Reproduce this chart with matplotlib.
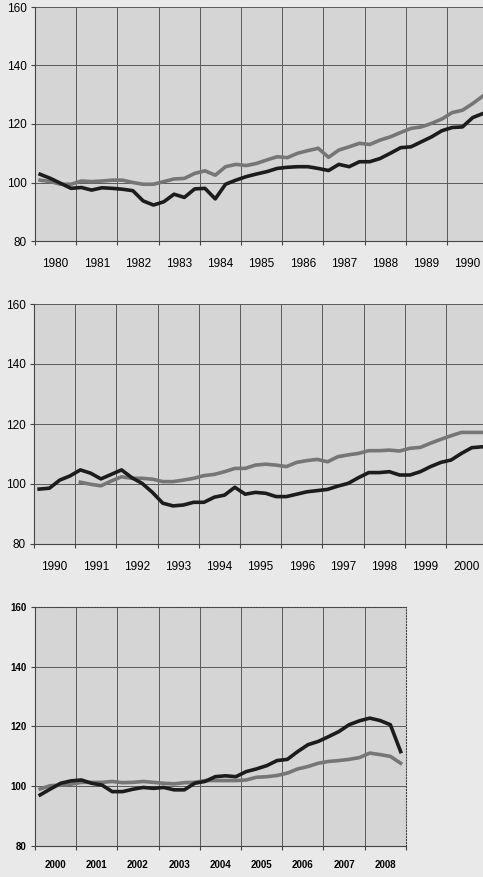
import numpy as np
import matplotlib.pyplot as plt

# quarterly index values (black = thick dark line, grey = lighter line)
black_80s = [102.8, 101.4, 99.7, 98.0, 98.3, 97.4, 98.2, 98.0, 97.7, 97.2, 93.7, 92.3,
             93.4, 96.0, 94.9, 97.8, 98.0, 94.4, 99.4, 100.8, 102.0, 102.9, 103.7, 104.8,
             105.2, 105.4, 105.4, 104.8, 104.1, 106.2, 105.4, 107.1, 107.1, 108.2, 110.0, 111.9,
             112.2, 113.9, 115.6, 117.7, 118.8, 119.0, 122.2, 123.6]
grey_80s = [100.8, 100.3, 99.4, 99.4, 100.5, 100.3, 100.5, 100.8, 100.8, 100.0, 99.4, 99.4,
            100.3, 101.2, 101.4, 103.1, 104.0, 102.5, 105.4, 106.2, 105.8, 106.5, 107.7, 108.8,
            108.5, 110.0, 110.9, 111.7, 108.6, 111.1, 112.2, 113.4, 113.0, 114.5, 115.6, 117.1,
            118.5, 119.0, 120.2, 121.7, 123.9, 124.7, 127.0, 129.6]

black_90s = [98.3, 98.6, 101.3, 102.7, 104.7, 103.6, 101.7, 103.2, 104.7, 102.1, 100.2, 97.2,
             93.6, 92.7, 93.0, 93.9, 93.9, 95.6, 96.3, 98.9, 96.6, 97.2, 96.9, 95.8,
             95.8, 96.6, 97.4, 97.8, 98.2, 99.3, 100.2, 102.1, 103.8, 103.8, 104.1, 103.0,
             103.0, 104.1, 105.8, 107.2, 108.0, 110.2, 112.1, 112.4]
grey_90s = [100.6, 99.9, 99.4, 101.0, 102.4, 101.9, 101.9, 101.6, 100.8, 100.8, 101.3, 101.9,
            102.8, 103.2, 104.1, 105.2, 105.2, 106.3, 106.6, 106.3, 105.8, 107.2, 107.8, 108.2,
            107.4, 109.1, 109.7, 110.2, 111.1, 111.1, 111.3, 111.0, 111.9, 112.2, 113.6, 114.9,
            116.1, 117.2, 117.2, 117.2]  # starts 1991 Q1

black_00s = [97.1, 99.1, 101.0, 101.8, 102.1, 101.0, 100.4, 98.2, 98.2, 99.0, 99.6, 99.3,
             99.6, 98.8, 98.8, 101.0, 101.6, 103.2, 103.5, 103.2, 104.9, 105.8, 106.9, 108.6,
             109.0, 111.6, 113.9, 115.0, 116.6, 118.3, 120.6, 121.9, 122.8, 122.0, 120.6, 111.6]
grey_00s = [99.1, 100.2, 100.4, 100.7, 101.3, 101.3, 101.3, 101.6, 101.2, 101.3, 101.6, 101.3,
            101.0, 100.8, 101.2, 101.3, 101.9, 101.9, 101.9, 101.9, 102.1, 103.0, 103.2, 103.6,
            104.4, 105.8, 106.6, 107.7, 108.3, 108.6, 109.0, 109.6, 111.1, 110.6, 110.0, 107.7]

yticks = [80, 100, 120, 140, 160]

paper = '#e9e9e9'
plot_bg = '#d5d5d5'
grid_col = '#5a5a5a'
dark = '#1c1c1c'
mid = '#767676'


def quarters(start, n):
    return start + 0.125 + 0.25 * np.arange(n)


def panel(fig, rect, first, last, black, grey, grey_start, narrow=False):
    ax = fig.add_axes(rect)
    ax.set_facecolor(plot_bg)
    ax.set_xlim(first, last)
    ax.set_ylim(80, 160)
    ax.set_yticks(yticks)
    ax.set_xticks(np.arange(first, last + 1))
    ax.set_xticks(np.arange(first, last) + 0.5, minor=True)
    ax.set_xticklabels([])
    ax.set_xticklabels([str(y) for y in range(first, last)], minor=True)
    ax.grid(True, which='major', color=grid_col, lw=0.7)
    ax.set_axisbelow(True)
    for s in ['top', 'right']:
        ax.spines[s].set_visible(narrow)
        ax.spines[s].set_linestyle(':')
        ax.spines[s].set_color('#444444')
    for s in ['left', 'bottom']:
        ax.spines[s].set_color('#444444')
        ax.spines[s].set_linewidth(0.8)
    ax.tick_params(axis='x', which='major', length=3, color='#444444')
    ax.tick_params(axis='y', length=3, color='#444444', pad=3)
    if narrow:
        fam = ['Liberation Sans Narrow', 'Liberation Sans', 'DejaVu Sans']
        ax.tick_params(axis='x', which='minor', length=0, pad=10, labelsize=7)
        ax.tick_params(axis='y', labelsize=7)
        for t in ax.get_xticklabels(minor=True) + ax.get_yticklabels():
            t.set_family(fam)
            t.set_fontweight('bold')
    else:
        ax.tick_params(axis='x', which='minor', length=0, pad=12, labelsize=8.5)
        ax.tick_params(axis='y', labelsize=8.5)
        for t in ax.get_xticklabels(minor=True) + ax.get_yticklabels():
            t.set_family(['Liberation Sans', 'DejaVu Sans'])
    ax.plot(quarters(grey_start, len(grey)), grey, color=mid, lw=2.6,
            solid_joinstyle='round', clip_on=False)
    ax.plot(quarters(first, len(black)), black, color=dark, lw=2.6,
            solid_joinstyle='round', clip_on=False)
    return ax


fig = plt.figure(figsize=(4.83, 8.77), dpi=100, facecolor=paper)

px_year = 41.2 / 483
panel(fig, [35 / 483, 1 - 241 / 877, 11 * px_year, 234 / 877], 1980, 1991,
      black_80s, grey_80s, 1980)
panel(fig, [34 / 483, 1 - 544 / 877, 11 * px_year, 240 / 877], 1990, 2001,
      black_90s, grey_90s, 1991)
panel(fig, [35 / 483, 1 - 846 / 877, 9 * px_year, 239 / 877], 2000, 2009,
      black_00s, grey_00s, 2000, narrow=True)

fig.savefig('out.png', dpi=100, facecolor=paper)
